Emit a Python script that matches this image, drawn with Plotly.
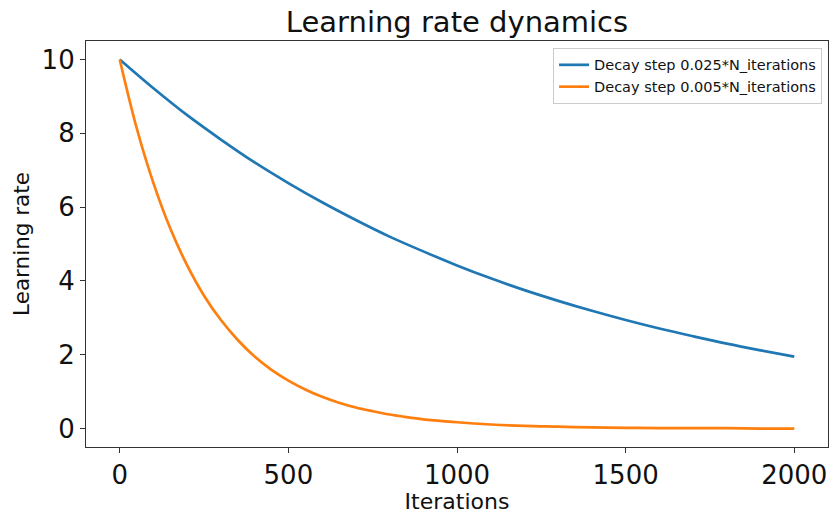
import plotly.graph_objects as go

blue_x = [0, 100, 200, 300, 400, 500, 600, 700, 800, 900, 1000,
          1100, 1200, 1300, 1400, 1500, 1600, 1700, 1800, 1900, 2000]
blue_y = [10.0, 9.22, 8.49, 7.83, 7.21, 6.65, 6.13, 5.65, 5.20, 4.80, 4.42,
          4.07, 3.75, 3.46, 3.19, 2.94, 2.71, 2.50, 2.30, 2.12, 1.95]

orange_x = [0, 50, 100, 150, 200, 250, 300, 350, 400, 450, 500,
            550, 600, 650, 700, 750, 800, 850, 900, 950, 1000,
            1100, 1200, 1300, 1400, 1500, 1600, 1700, 1800, 1900, 2000]
orange_y = [10.0, 8.15, 6.65, 5.42, 4.42, 3.60, 2.94, 2.40, 1.95, 1.59, 1.30,
            1.06, 0.86, 0.70, 0.57, 0.47, 0.38, 0.31, 0.25, 0.21, 0.17,
            0.11, 0.07, 0.05, 0.03, 0.02, 0.01, 0.01, 0.01, 0.0, 0.0]

series_names = ["Decay step 0.025*N_iterations", "Decay step 0.005*N_iterations"]
x_ticks = [0, 500, 1000, 1500, 2000]
y_ticks = [0, 2, 4, 6, 8, 10]

FONT = "DejaVu Sans"

fig = go.Figure()
fig.add_trace(go.Scatter(x=blue_x, y=blue_y, mode="lines", name=series_names[0],
                         line=dict(color="#1f77b4", width=2.7, shape="spline")))
fig.add_trace(go.Scatter(x=orange_x, y=orange_y, mode="lines", name=series_names[1],
                         line=dict(color="#ff7f0e", width=2.7, shape="spline")))

axis_common = dict(showline=True, mirror=True, linecolor="#333333", linewidth=1.2,
                   ticks="outside", ticklen=5, tickcolor="#333333", tickwidth=1,
                   showgrid=False, zeroline=False, automargin=False,
                   tickfont=dict(family=FONT, size=26, color="#111111"))

fig.update_layout(
    width=829, height=514,
    margin=dict(l=86, r=1, t=41, b=67),
    paper_bgcolor="white", plot_bgcolor="white",
    title=dict(text="Learning rate dynamics", x=(86 + 828) / 2 / 829, xanchor="center",
               y=1 - 22 / 514, yanchor="middle",
               font=dict(family=FONT, size=29, color="#111111")),
    xaxis=dict(range=[-100, 2100], tickvals=x_ticks,
               title=dict(text="Iterations", font=dict(family=FONT, size=22, color="#111111")),
               **axis_common),
    yaxis=dict(range=[-0.5, 10.5], tickvals=y_ticks,
               title=dict(text="Learning rate", font=dict(family=FONT, size=21.5, color="#111111"),
                          standoff=6),
               **axis_common),
    legend=dict(x=0.992, xanchor="right", y=0.983, yanchor="top",
                bgcolor="white", bordercolor="#cccccc", borderwidth=1,
                font=dict(family=FONT, size=14.5, color="#111111"),
                tracegroupgap=2),
    showlegend=True,
)

fig.write_html("out.html", config={"displayModeBar": False},
               post_script="document.body.style.margin='0';")
